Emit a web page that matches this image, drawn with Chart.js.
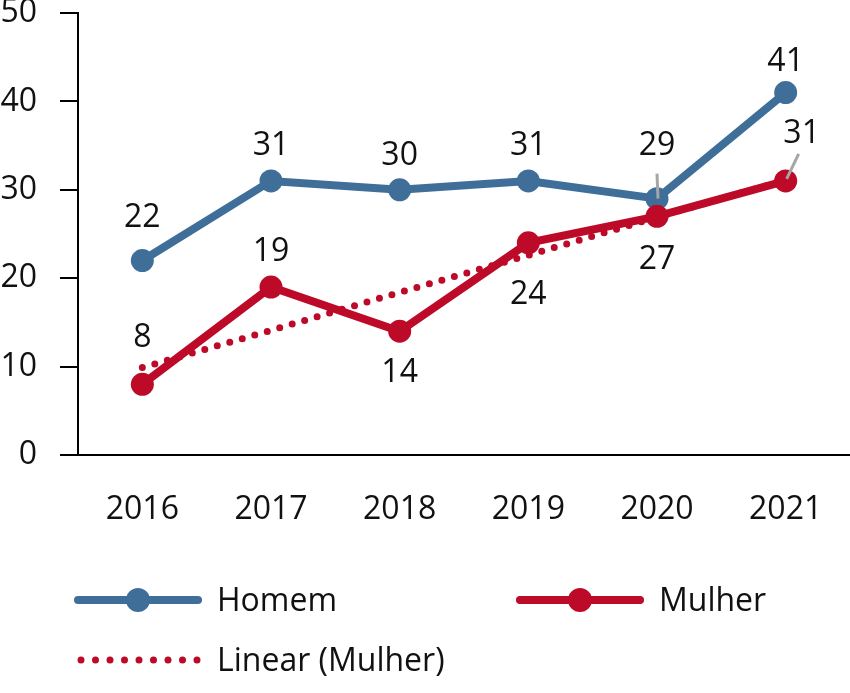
<!DOCTYPE html>
<html lang="pt">
<head>
  <meta charset="utf-8">
  <title>Homem x Mulher 2016-2021</title>
  <style>
    * { margin: 0; padding: 0; }
    body { background: #fff; }
    #wrap { width: 850px; height: 693px; }
  </style>
</head>
<body>
  <div id="wrap"><canvas id="chart" width="850" height="693"></canvas></div>

  <script src="https://cdn.jsdelivr.net/npm/chart.js@4.4.1/dist/chart.umd.min.js"></script>
  <script>
    // data
    const years = ['2016', '2017', '2018', '2019', '2020', '2021'];
    const homem = [22, 31, 30, 31, 29, 41];
    const mulher = [8, 19, 14, 24, 27, 31];
    const linearMulher = [9.9, 14.1, 18.4, 22.6, 26.9, 31.1];
    const yTicks = [0, 10, 20, 30, 40, 50];

    const BLUE = '#3f6f98';
    const RED = '#bd0a28';
    const FONT = '"Open Sans", "Noto Sans", sans-serif';

    // label placement (dx, dy from the point) and leader lines
    const homemLabelPos = [[0, -45], [0, -37], [0, -36], [0, -37], [0, -55], [0, -33]];
    const mulherLabelPos = [[0, -48], [0, -37], [0, 40], [0, 50], [0, 42], [16, -49]];

    const pointLabels = {
      id: 'pointLabels',
      afterDatasetsDraw(chart) {
        const ctx = chart.ctx;
        ctx.save();
        ctx.font = '32px ' + FONT;
        ctx.textAlign = 'center';
        ctx.textBaseline = 'middle';
        chart.data.datasets.forEach((ds, i) => {
          if (!ds.labelPos) return;
          const meta = chart.getDatasetMeta(i);
          meta.data.forEach((pt, j) => {
            const [dx, dy] = ds.labelPos[j];
            if (ds.leaders && ds.leaders[j]) {
              const [x1, y1, x2, y2] = ds.leaders[j];
              ctx.strokeStyle = '#a6a6a6';
              ctx.lineWidth = 3;
              ctx.beginPath();
              ctx.moveTo(pt.x + x1, pt.y + y1);
              ctx.lineTo(pt.x + x2, pt.y + y2);
              ctx.stroke();
            }
            ctx.fillStyle = '#111';
            ctx.fillText(String(ds.data[j]), pt.x + dx, pt.y + dy + 2);
          });
        });
        ctx.restore();
      }
    };

    const legendBox = {
      id: 'legendBox',
      afterDraw(chart) {
        const ctx = chart.ctx;
        ctx.save();
        ctx.lineCap = 'round';
        const lineItem = (x, y, color, label) => {
          ctx.strokeStyle = color;
          ctx.lineWidth = 8;
          ctx.beginPath();
          ctx.moveTo(x, y);
          ctx.lineTo(x + 120, y);
          ctx.stroke();
          ctx.fillStyle = color;
          ctx.beginPath();
          ctx.arc(x + 60, y, 12, 0, Math.PI * 2);
          ctx.fill();
          ctx.fillStyle = '#111';
          ctx.fillText(label, x + 139, y + 2);
        };
        ctx.font = '32px ' + FONT;
        ctx.textAlign = 'left';
        ctx.textBaseline = 'middle';
        lineItem(78, 600, BLUE, 'Homem');
        lineItem(520, 600, RED, 'Mulher');

        ctx.strokeStyle = RED;
        ctx.lineWidth = 7;
        ctx.setLineDash([0, 14.5]);
        ctx.beginPath();
        ctx.moveTo(81, 660);
        ctx.lineTo(198, 660);
        ctx.stroke();
        ctx.setLineDash([]);
        ctx.fillStyle = '#111';
        ctx.fillText('Linear (Mulher)', 217, 662);
        ctx.restore();
      }
    };

    new Chart(document.getElementById('chart'), {
      type: 'line',
      data: {
        labels: years,
        datasets: [
          {
            label: 'Mulher',
            data: mulher,
            order: 0,
            borderColor: RED,
            backgroundColor: RED,
            borderWidth: 8,
            pointRadius: 11.5,
            pointBorderWidth: 0,
            tension: 0,
            clip: false,
            labelPos: mulherLabelPos,
            leaders: [null, null, null, null, null, [13, -27, 1, -2]]
          },
          {
            label: 'Linear (Mulher)',
            data: linearMulher,
            order: 1,
            borderColor: RED,
            borderWidth: 7,
            borderDash: [0, 13],
            borderCapStyle: 'round',
            pointRadius: 0,
            tension: 0,
            clip: false
          },
          {
            label: 'Homem',
            data: homem,
            order: 2,
            borderColor: BLUE,
            backgroundColor: BLUE,
            borderWidth: 8,
            pointRadius: 11.5,
            pointBorderWidth: 0,
            tension: 0,
            clip: false,
            labelPos: homemLabelPos,
            leaders: [null, null, null, null, [0, -25, 1, 0], null]
          }
        ]
      },
      options: {
        responsive: false,
        animation: false,
        events: [],
        layout: { autoPadding: false, padding: { left: 0, right: 0, top: 13, bottom: 158 } },
        plugins: { legend: { display: false }, tooltip: { enabled: false } },
        scales: {
          x: {
            offset: true,
            grid: { display: false },
            border: { display: true, color: '#000', width: 2 },
            ticks: { color: '#111', font: { family: FONT, size: 32 }, padding: 28, maxRotation: 0 },
            afterFit(scale) { scale.height = 80; scale.paddingLeft = 0; scale.paddingRight = 0; }
          },
          y: {
            min: 0,
            max: 50,
            afterBuildTicks(scale) { scale.ticks = yTicks.map(v => ({ value: v })); },
            grid: { drawOnChartArea: false, drawTicks: true, tickLength: 18, color: '#000', lineWidth: 2 },
            border: { display: true, color: '#000', width: 2 },
            ticks: { color: '#111', font: { family: FONT, size: 32 }, padding: 23 },
            afterFit(scale) { scale.width = 78; scale.paddingTop = 0; scale.paddingBottom = 0; }
          }
        }
      },
      plugins: [pointLabels, legendBox]
    });
  </script>
</body>
</html>
